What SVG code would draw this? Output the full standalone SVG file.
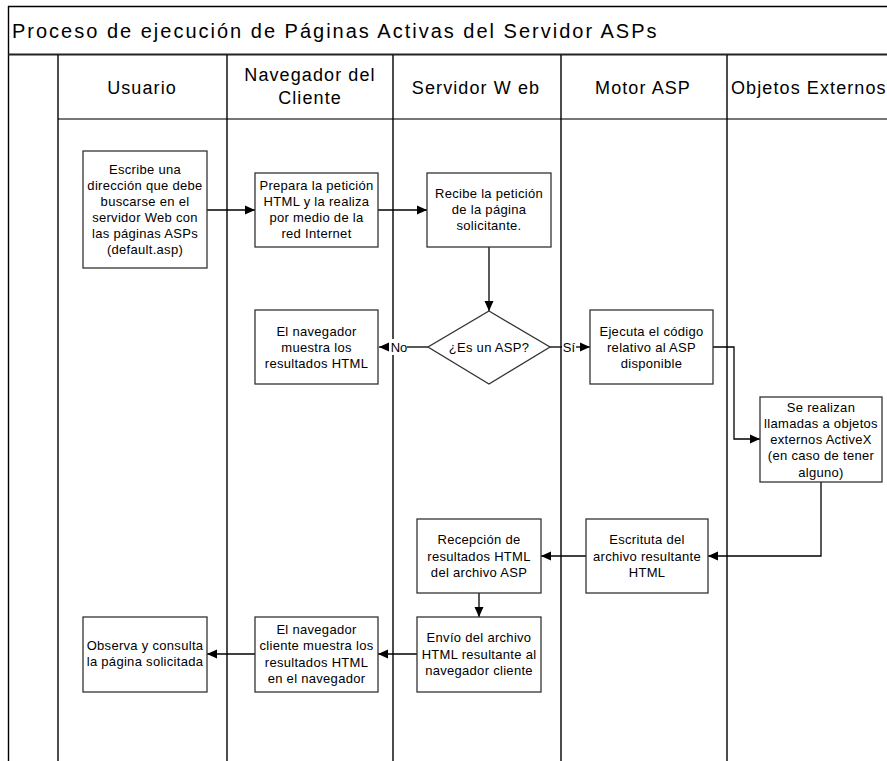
<svg xmlns="http://www.w3.org/2000/svg" width="887" height="761" viewBox="0 0 887 761">
<defs>
<marker id="ah" viewBox="0 0 10 10" refX="10" refY="5" markerWidth="10" markerHeight="10" markerUnits="userSpaceOnUse" orient="auto">
<path d="M0,0.5 L10,5 L0,9.5 z" fill="#000"/>
</marker>
<style>
.title{font-family:"Liberation Sans",Arial,sans-serif;font-size:20px;letter-spacing:2px;fill:#000}
.hdr{font-family:"Liberation Sans",Arial,sans-serif;font-size:18px;letter-spacing:1.1px;fill:#000;text-anchor:middle}
.t{font-family:"Liberation Sans",Arial,sans-serif;font-size:13px;letter-spacing:0.3px;fill:#000;text-anchor:middle}
.lbl{font-family:"Liberation Sans",Arial,sans-serif;font-size:13px;fill:#000;text-anchor:middle}
.box{fill:#fff;stroke:#333;stroke-width:1.3}
.lane{stroke:#000;stroke-width:1.4;fill:none}
.conn{stroke:#000;stroke-width:1.3;fill:none}
</style>
</defs>
<rect width="887" height="761" fill="#fff"/>
<g id="frame">
<line class="lane" x1="8.5" y1="6" x2="8.5" y2="761"/>
<line x1="8" y1="6.5" x2="887" y2="6.5" stroke="#000" stroke-width="1.4"/>
<line x1="8" y1="54.5" x2="887" y2="54.5" stroke="#222" stroke-width="2"/>
<line x1="58" y1="119" x2="887" y2="119" stroke="#777" stroke-width="2"/>
<line class="lane" x1="58" y1="55" x2="58" y2="761"/>
<line class="lane" x1="227" y1="55" x2="227" y2="761"/>
<line class="lane" x1="393" y1="55" x2="393" y2="761"/>
<line class="lane" x1="561" y1="55" x2="561" y2="761"/>
<line class="lane" x1="727" y1="55" x2="727" y2="761"/>
<text class="title" x="12" y="38">Proceso de ejecución de Páginas Activas del Servidor ASPs</text>
<text class="hdr" x="142" y="94">Usuario</text>
<text class="hdr" x="310" y="81">Navegador del</text>
<text class="hdr" x="310" y="104">Cliente</text>
<text class="hdr" x="476" y="94">Servidor W eb</text>
<text class="hdr" x="643" y="94">Motor ASP</text>
<text class="hdr" x="731" y="94" style="text-anchor:start">Objetos Externos</text>
</g>
<g id="connectors">
<line class="conn" x1="207" y1="210" x2="255" y2="210" marker-end="url(#ah)"/>
<line class="conn" x1="378" y1="210" x2="427" y2="210" marker-end="url(#ah)"/>
<line class="conn" x1="489" y1="247" x2="489" y2="311" marker-end="url(#ah)"/>
<line class="conn" x1="428" y1="347" x2="407" y2="347"/>
<line class="conn" x1="389" y1="347" x2="379" y2="347" marker-end="url(#ah)"/>
<rect x="389" y="339" width="18" height="16" fill="#fff"/>
<text class="lbl" x="399" y="351.5">No</text>
<line class="conn" x1="550" y1="347" x2="562" y2="347"/>
<line class="conn" x1="576" y1="347" x2="590" y2="347" marker-end="url(#ah)"/>
<text class="lbl" x="569" y="351.5">Sí</text>
<polyline class="conn" points="713,347 734,347 734,439 760,439" marker-end="url(#ah)"/>
<polyline class="conn" points="821,482 821,556 708,556" marker-end="url(#ah)"/>
<line class="conn" x1="586" y1="556" x2="541" y2="556" marker-end="url(#ah)"/>
<line class="conn" x1="479" y1="593" x2="479" y2="617" marker-end="url(#ah)"/>
<line class="conn" x1="417" y1="654" x2="378" y2="654" marker-end="url(#ah)"/>
<line class="conn" x1="255" y1="654" x2="207" y2="654" marker-end="url(#ah)"/>
</g>
<g id="n1">
<rect class="box" x="83" y="151" width="124" height="117"/>
<text class="t" x="145" y="174">Escribe una</text>
<text class="t" x="145" y="190">dirección que debe</text>
<text class="t" x="145" y="206">buscarse en el</text>
<text class="t" x="145" y="222">servidor Web con</text>
<text class="t" x="145" y="238">las páginas ASPs</text>
<text class="t" x="145" y="254">(default.asp)</text>
</g>
<g id="n2">
<rect class="box" x="255" y="173" width="123" height="74"/>
<text class="t" x="316.5" y="189.5">Prepara la petición</text>
<text class="t" x="316.5" y="206">HTML y la realiza</text>
<text class="t" x="316.5" y="222">por medio de la</text>
<text class="t" x="316.5" y="238">red Internet</text>
</g>
<g id="n3">
<rect class="box" x="427" y="173" width="124" height="74"/>
<text class="t" x="489" y="198">Recibe la petición</text>
<text class="t" x="489" y="214">de la página</text>
<text class="t" x="489" y="230">solicitante.</text>
</g>
<g id="n4">
<polygon class="box" points="489,311 550,347 489,384 428,347"/>
<text class="t" x="489" y="351.5">¿Es un ASP?</text>
</g>
<g id="n5">
<rect class="box" x="255" y="310" width="123" height="74"/>
<text class="t" x="316.5" y="336">El navegador</text>
<text class="t" x="316.5" y="352">muestra los</text>
<text class="t" x="316.5" y="368">resultados HTML</text>
</g>
<g id="n6">
<rect class="box" x="590" y="310" width="123" height="74"/>
<text class="t" x="651.5" y="336">Ejecuta el código</text>
<text class="t" x="651.5" y="352">relativo al ASP</text>
<text class="t" x="651.5" y="368">disponible</text>
</g>
<g id="n7">
<rect class="box" x="760" y="397" width="122" height="85"/>
<text class="t" x="821" y="411.5">Se realizan</text>
<text class="t" x="821" y="428">llamadas a objetos</text>
<text class="t" x="821" y="444">externos ActiveX</text>
<text class="t" x="821" y="460">(en caso de tener</text>
<text class="t" x="821" y="476.5">alguno)</text>
</g>
<g id="n8">
<rect class="box" x="586" y="519" width="122" height="74"/>
<text class="t" x="647" y="543.5">Escrituta del</text>
<text class="t" x="647" y="561">archivo resultante</text>
<text class="t" x="647" y="577">HTML</text>
</g>
<g id="n9">
<rect class="box" x="417" y="519" width="124" height="74"/>
<text class="t" x="479" y="544">Recepción de</text>
<text class="t" x="479" y="561">resultados HTML</text>
<text class="t" x="479" y="577">del archivo ASP</text>
</g>
<g id="n10">
<rect class="box" x="417" y="617" width="124" height="75"/>
<text class="t" x="479" y="642">Envío del archivo</text>
<text class="t" x="479" y="659">HTML resultante al</text>
<text class="t" x="479" y="675">navegador cliente</text>
</g>
<g id="n11">
<rect class="box" x="255" y="617" width="123" height="75"/>
<text class="t" x="316.5" y="634">El navegador</text>
<text class="t" x="316.5" y="650">cliente muestra los</text>
<text class="t" x="316.5" y="667">resultados HTML</text>
<text class="t" x="316.5" y="683">en el navegador</text>
</g>
<g id="n12">
<rect class="box" x="83" y="617" width="124" height="75"/>
<text class="t" x="145" y="650">Observa y consulta</text>
<text class="t" x="145" y="666">la página solicitada</text>
</g>
</svg>
